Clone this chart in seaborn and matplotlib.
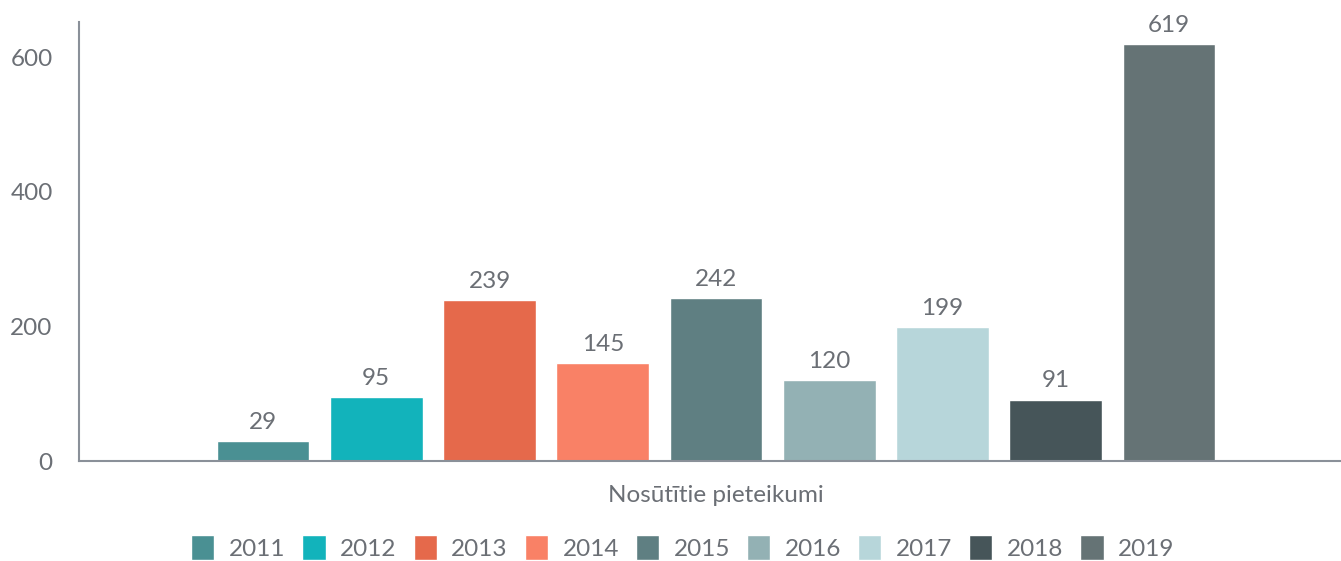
import pandas as pd
import matplotlib
matplotlib.use("Agg")
import matplotlib.pyplot as plt
import seaborn as sns

# Data
category = "Nosūtītie pieteikumi"
years = ["2011", "2012", "2013", "2014", "2015", "2016", "2017", "2018", "2019"]
values = [29, 95, 239, 145, 242, 120, 199, 91, 619]
colors = ["#4a9093", "#12b3bb", "#e5694b", "#f98166", "#5f7f82",
          "#93b1b4", "#b7d6da", "#465559", "#657375"]

df = pd.DataFrame({"category": [category] * len(years), "year": years, "value": values})

sns.set_style("white")
plt.rcParams["font.family"] = ["Lato", "DejaVu Sans"]
text_color = "#6b6f75"
axis_color = "#8a9099"
fs = 17.5

fig = plt.figure(figsize=(13.41, 5.61), dpi=100)
ax = fig.add_axes([79 / 1341, 100 / 561, 1274 / 1341, 439 / 561])

sns.barplot(data=df, x="category", y="value", hue="year", hue_order=years,
            palette=colors, width=0.8, gap=0.18, saturation=1, ax=ax,
            legend=True)

for cont in ax.containers:
    ax.bar_label(cont, padding=6, fontsize=fs, color=text_color)

ax.set_ylim(0, 652)
ax.set_xlim(-0.5, 0.5)
ax.set_yticks([0, 200, 400, 600])
ax.set_xlabel("")
ax.set_ylabel("")
ax.tick_params(axis="both", length=0, labelsize=fs, colors=text_color)
ax.tick_params(axis="y", pad=19)
ax.tick_params(axis="x", pad=17)
for side in ["top", "right"]:
    ax.spines[side].set_visible(False)
for side in ["left", "bottom"]:
    ax.spines[side].set_color(axis_color)
    ax.spines[side].set_linewidth(1.5)

ax.legend(loc="center", bbox_to_anchor=(0.474, -0.198), ncol=9,
          frameon=False, fontsize=fs, labelcolor=text_color,
          handlelength=0.95, handleheight=1.2, handletextpad=0.6,
          columnspacing=0.7, borderpad=0)

fig.savefig("out.png", dpi=100)
